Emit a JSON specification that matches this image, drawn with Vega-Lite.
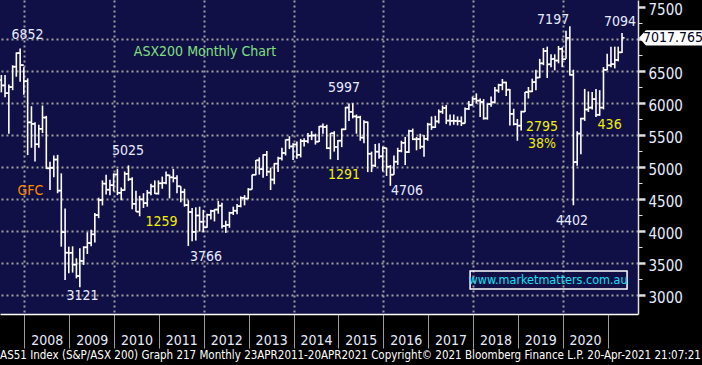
{
  "$schema": "https://vega.github.io/schema/vega-lite/v6.json",
  "width": 638,
  "height": 314,
  "autosize": {"type": "none"},
  "padding": {"left": 0, "top": 0, "right": 64, "bottom": 51},
  "background": "#000000",
  "config": {"view": {"fill": "#100f46", "stroke": null}, "font": "Liberation Sans"},
  "title": {"text": "AS51 Index (S&P/ASX 200) Graph 217  Monthly 23APR2011-20APR2021 Copyright© 2021 Bloomberg Finance L.P.  20-Apr-2021 21:07:21", "orient": "bottom", "anchor": "start", "frame": "bounds", "color": "#ffffff", "fontSize": 11.5, "font": "DejaVu Sans Condensed, Liberation Sans", "fontWeight": "normal", "offset": 1, "dx": 2},
  "resolve": {"axis": {"y": "independent"}},
  "datasets": {
    "ohlc": [
      {"d":"2007-06-28","o":6358,"h":6438,"l":6166,"c":6274},
      {"d":"2007-07-28","o":6274,"h":6437,"l":6090,"c":6154},
      {"d":"2007-08-28","o":6154,"h":6290,"l":5520,"c":6249},
      {"d":"2007-09-28","o":6249,"h":6590,"l":6200,"c":6567},
      {"d":"2007-10-28","o":6567,"h":6790,"l":6410,"c":6779},
      {"d":"2007-11-28","o":6779,"h":6852,"l":6330,"c":6592},
      {"d":"2007-12-28","o":6592,"h":6560,"l":6130,"c":6340},
      {"d":"2008-01-28","o":6340,"h":6385,"l":5186,"c":5697},
      {"d":"2008-02-28","o":5697,"h":5950,"l":5300,"c":5674},
      {"d":"2008-03-28","o":5674,"h":5700,"l":5087,"c":5355},
      {"d":"2008-04-28","o":5355,"h":5660,"l":5300,"c":5597},
      {"d":"2008-05-28","o":5597,"h":5960,"l":5530,"c":5773},
      {"d":"2008-06-28","o":5773,"h":5800,"l":4970,"c":4979},
      {"d":"2008-07-28","o":4979,"h":5080,"l":4640,"c":4987},
      {"d":"2008-08-28","o":4987,"h":5180,"l":4840,"c":5116},
      {"d":"2008-09-28","o":5116,"h":5190,"l":4590,"c":4631},
      {"d":"2008-10-28","o":4631,"h":4900,"l":3755,"c":3982},
      {"d":"2008-11-28","o":3982,"h":4350,"l":3234,"c":3661},
      {"d":"2008-12-28","o":3661,"h":3755,"l":3339,"c":3659},
      {"d":"2009-01-28","o":3659,"h":3760,"l":3350,"c":3475},
      {"d":"2009-02-28","o":3475,"h":3573,"l":3260,"c":3296},
      {"d":"2009-03-28","o":3296,"h":3729,"l":3121,"c":3532},
      {"d":"2009-04-28","o":3532,"h":3760,"l":3470,"c":3745},
      {"d":"2009-05-28","o":3745,"h":3980,"l":3640,"c":3813},
      {"d":"2009-06-28","o":3813,"h":4020,"l":3760,"c":3948},
      {"d":"2009-07-28","o":3948,"h":4280,"l":3820,"c":4249},
      {"d":"2009-08-28","o":4249,"h":4520,"l":4200,"c":4484},
      {"d":"2009-09-28","o":4484,"h":4790,"l":4400,"c":4740},
      {"d":"2009-10-28","o":4740,"h":4880,"l":4570,"c":4646},
      {"d":"2009-11-28","o":4646,"h":4800,"l":4560,"c":4715},
      {"d":"2009-12-28","o":4715,"h":4900,"l":4620,"c":4883},
      {"d":"2010-01-28","o":4883,"h":4970,"l":4560,"c":4596},
      {"d":"2010-02-28","o":4596,"h":4680,"l":4480,"c":4638},
      {"d":"2010-03-28","o":4638,"h":4930,"l":4630,"c":4893},
      {"d":"2010-04-28","o":4893,"h":5025,"l":4780,"c":4808},
      {"d":"2010-05-28","o":4808,"h":4840,"l":4340,"c":4425},
      {"d":"2010-06-28","o":4425,"h":4630,"l":4300,"c":4302},
      {"d":"2010-07-28","o":4302,"h":4550,"l":4230,"c":4494},
      {"d":"2010-08-28","o":4494,"h":4590,"l":4360,"c":4435},
      {"d":"2010-09-28","o":4435,"h":4640,"l":4380,"c":4599},
      {"d":"2010-10-28","o":4599,"h":4740,"l":4560,"c":4697},
      {"d":"2010-11-28","o":4697,"h":4790,"l":4580,"c":4585},
      {"d":"2010-12-28","o":4585,"h":4790,"l":4570,"c":4745},
      {"d":"2011-01-28","o":4745,"h":4850,"l":4660,"c":4753},
      {"d":"2011-02-28","o":4753,"h":4930,"l":4730,"c":4870},
      {"d":"2011-03-28","o":4870,"h":4880,"l":4510,"c":4838},
      {"d":"2011-04-28","o":4838,"h":4970,"l":4760,"c":4824},
      {"d":"2011-05-28","o":4824,"h":4870,"l":4590,"c":4698},
      {"d":"2011-06-28","o":4698,"h":4700,"l":4450,"c":4608},
      {"d":"2011-07-28","o":4608,"h":4660,"l":4380,"c":4405},
      {"d":"2011-08-28","o":4405,"h":4480,"l":3766,"c":4297},
      {"d":"2011-09-28","o":4297,"h":4360,"l":3840,"c":3986},
      {"d":"2011-10-28","o":3986,"h":4370,"l":3850,"c":4242},
      {"d":"2011-11-28","o":4242,"h":4380,"l":3990,"c":4145},
      {"d":"2011-12-28","o":4145,"h":4330,"l":3980,"c":4057},
      {"d":"2012-01-28","o":4057,"h":4270,"l":4050,"c":4253},
      {"d":"2012-02-28","o":4253,"h":4330,"l":4180,"c":4313},
      {"d":"2012-03-28","o":4313,"h":4340,"l":4150,"c":4335},
      {"d":"2012-04-28","o":4335,"h":4470,"l":4270,"c":4396},
      {"d":"2012-05-28","o":4396,"h":4440,"l":4040,"c":4077},
      {"d":"2012-06-28","o":4077,"h":4160,"l":3970,"c":4095},
      {"d":"2012-07-28","o":4095,"h":4300,"l":4050,"c":4284},
      {"d":"2012-08-28","o":4284,"h":4380,"l":4250,"c":4317},
      {"d":"2012-09-28","o":4317,"h":4420,"l":4260,"c":4387},
      {"d":"2012-10-28","o":4387,"h":4540,"l":4370,"c":4519},
      {"d":"2012-11-28","o":4519,"h":4560,"l":4400,"c":4506},
      {"d":"2012-12-28","o":4506,"h":4670,"l":4500,"c":4649},
      {"d":"2013-01-28","o":4649,"h":4880,"l":4650,"c":4879},
      {"d":"2013-02-28","o":4879,"h":5110,"l":4870,"c":5104},
      {"d":"2013-03-28","o":5104,"h":5150,"l":4880,"c":4967},
      {"d":"2013-04-28","o":4967,"h":5200,"l":4830,"c":5191},
      {"d":"2013-05-28","o":5191,"h":5250,"l":4860,"c":4927},
      {"d":"2013-06-28","o":4927,"h":4990,"l":4640,"c":4803},
      {"d":"2013-07-28","o":4803,"h":5060,"l":4730,"c":5052},
      {"d":"2013-08-28","o":5052,"h":5160,"l":4920,"c":5135},
      {"d":"2013-09-28","o":5135,"h":5300,"l":5100,"c":5218},
      {"d":"2013-10-28","o":5218,"h":5430,"l":5180,"c":5426},
      {"d":"2013-11-28","o":5426,"h":5480,"l":5280,"c":5321},
      {"d":"2013-12-28","o":5321,"h":5370,"l":5110,"c":5352},
      {"d":"2014-01-28","o":5352,"h":5400,"l":5130,"c":5190},
      {"d":"2014-02-28","o":5190,"h":5440,"l":5150,"c":5405},
      {"d":"2014-03-28","o":5405,"h":5450,"l":5320,"c":5403},
      {"d":"2014-04-28","o":5403,"h":5530,"l":5370,"c":5489},
      {"d":"2014-05-28","o":5489,"h":5560,"l":5420,"c":5492},
      {"d":"2014-06-28","o":5492,"h":5520,"l":5350,"c":5396},
      {"d":"2014-07-28","o":5396,"h":5640,"l":5390,"c":5633},
      {"d":"2014-08-28","o":5633,"h":5680,"l":5520,"c":5625},
      {"d":"2014-09-28","o":5625,"h":5660,"l":5280,"c":5293},
      {"d":"2014-10-28","o":5293,"h":5530,"l":5120,"c":5527},
      {"d":"2014-11-28","o":5527,"h":5560,"l":5240,"c":5313},
      {"d":"2014-12-28","o":5313,"h":5420,"l":5110,"c":5411},
      {"d":"2015-01-28","o":5411,"h":5600,"l":5310,"c":5588},
      {"d":"2015-02-28","o":5588,"h":5940,"l":5580,"c":5929},
      {"d":"2015-03-28","o":5929,"h":5990,"l":5720,"c":5861},
      {"d":"2015-04-28","o":5861,"h":5997,"l":5760,"c":5790},
      {"d":"2015-05-28","o":5790,"h":5820,"l":5520,"c":5777},
      {"d":"2015-06-28","o":5777,"h":5800,"l":5410,"c":5459},
      {"d":"2015-07-28","o":5459,"h":5730,"l":5370,"c":5699},
      {"d":"2015-08-28","o":5699,"h":5710,"l":4920,"c":5207},
      {"d":"2015-09-28","o":5207,"h":5240,"l":4920,"c":5022},
      {"d":"2015-10-28","o":5022,"h":5360,"l":5000,"c":5239},
      {"d":"2015-11-28","o":5239,"h":5370,"l":5130,"c":5166},
      {"d":"2015-12-28","o":5166,"h":5320,"l":4930,"c":5296},
      {"d":"2016-01-28","o":5296,"h":5300,"l":4860,"c":5005},
      {"d":"2016-02-28","o":5005,"h":5030,"l":4706,"c":4880},
      {"d":"2016-03-28","o":4880,"h":5180,"l":4880,"c":5083},
      {"d":"2016-04-28","o":5083,"h":5300,"l":5030,"c":5253},
      {"d":"2016-05-28","o":5253,"h":5410,"l":5230,"c":5378},
      {"d":"2016-06-28","o":5378,"h":5470,"l":5030,"c":5233},
      {"d":"2016-07-28","o":5233,"h":5580,"l":5220,"c":5562},
      {"d":"2016-08-28","o":5562,"h":5600,"l":5420,"c":5433},
      {"d":"2016-09-28","o":5433,"h":5470,"l":5260,"c":5436},
      {"d":"2016-10-28","o":5436,"h":5520,"l":5280,"c":5318},
      {"d":"2016-11-28","o":5318,"h":5500,"l":5160,"c":5440},
      {"d":"2016-12-28","o":5440,"h":5690,"l":5410,"c":5665},
      {"d":"2017-01-28","o":5665,"h":5790,"l":5580,"c":5621},
      {"d":"2017-02-28","o":5621,"h":5800,"l":5610,"c":5712},
      {"d":"2017-03-28","o":5712,"h":5900,"l":5680,"c":5864},
      {"d":"2017-04-28","o":5864,"h":5960,"l":5830,"c":5924},
      {"d":"2017-05-28","o":5924,"h":5970,"l":5670,"c":5725},
      {"d":"2017-06-28","o":5725,"h":5820,"l":5650,"c":5721},
      {"d":"2017-07-28","o":5721,"h":5820,"l":5660,"c":5720},
      {"d":"2017-08-28","o":5720,"h":5790,"l":5650,"c":5715},
      {"d":"2017-09-28","o":5715,"h":5790,"l":5640,"c":5682},
      {"d":"2017-10-28","o":5682,"h":5930,"l":5680,"c":5909},
      {"d":"2017-11-28","o":5909,"h":6030,"l":5890,"c":5970},
      {"d":"2017-12-28","o":5970,"h":6100,"l":5960,"c":6065},
      {"d":"2018-01-28","o":6065,"h":6150,"l":5990,"c":6037},
      {"d":"2018-02-28","o":6037,"h":6070,"l":5780,"c":6016},
      {"d":"2018-03-28","o":6016,"h":6060,"l":5740,"c":5759},
      {"d":"2018-04-28","o":5759,"h":5990,"l":5740,"c":5983},
      {"d":"2018-05-28","o":5983,"h":6100,"l":5940,"c":6011},
      {"d":"2018-06-28","o":6011,"h":6250,"l":5990,"c":6195},
      {"d":"2018-07-28","o":6195,"h":6300,"l":6160,"c":6280},
      {"d":"2018-08-28","o":6280,"h":6375,"l":6200,"c":6320},
      {"d":"2018-09-28","o":6320,"h":6330,"l":6110,"c":6208},
      {"d":"2018-10-28","o":6208,"h":6220,"l":5650,"c":5830},
      {"d":"2018-11-28","o":5830,"h":5910,"l":5650,"c":5668},
      {"d":"2018-12-28","o":5668,"h":5750,"l":5410,"c":5646},
      {"d":"2019-01-28","o":5646,"h":5880,"l":5570,"c":5865},
      {"d":"2019-02-28","o":5865,"h":6170,"l":5860,"c":6169},
      {"d":"2019-03-28","o":6169,"h":6250,"l":6070,"c":6181},
      {"d":"2019-04-28","o":6181,"h":6380,"l":6170,"c":6326},
      {"d":"2019-05-28","o":6326,"h":6520,"l":6200,"c":6397},
      {"d":"2019-06-28","o":6397,"h":6690,"l":6390,"c":6619},
      {"d":"2019-07-28","o":6619,"h":6860,"l":6590,"c":6813},
      {"d":"2019-08-28","o":6813,"h":6880,"l":6390,"c":6604},
      {"d":"2019-09-28","o":6604,"h":6760,"l":6560,"c":6688},
      {"d":"2019-10-28","o":6688,"h":6760,"l":6510,"c":6663},
      {"d":"2019-11-28","o":6663,"h":6890,"l":6620,"c":6846},
      {"d":"2019-12-28","o":6846,"h":6870,"l":6560,"c":6684},
      {"d":"2020-01-28","o":6684,"h":7130,"l":6690,"c":7017},
      {"d":"2020-02-28","o":7017,"h":7197,"l":6430,"c":6441},
      {"d":"2020-03-28","o":6441,"h":6520,"l":4402,"c":5077},
      {"d":"2020-04-28","o":5077,"h":5560,"l":5020,"c":5522},
      {"d":"2020-05-28","o":5522,"h":5770,"l":5200,"c":5756},
      {"d":"2020-06-28","o":5756,"h":6220,"l":5720,"c":5898},
      {"d":"2020-07-28","o":5898,"h":6180,"l":5860,"c":5928},
      {"d":"2020-08-28","o":5928,"h":6170,"l":5900,"c":6061},
      {"d":"2020-09-28","o":6061,"h":6220,"l":5780,"c":5816},
      {"d":"2020-10-28","o":5816,"h":6200,"l":5800,"c":5928},
      {"d":"2020-11-28","o":5928,"h":6560,"l":5900,"c":6518},
      {"d":"2020-12-28","o":6518,"h":6770,"l":6510,"c":6588},
      {"d":"2021-01-28","o":6588,"h":6880,"l":6560,"c":6607},
      {"d":"2021-02-28","o":6607,"h":6880,"l":6540,"c":6673},
      {"d":"2021-03-28","o":6673,"h":6880,"l":6650,"c":6791},
      {"d":"2021-04-28","o":6791,"h":7094,"l":6780,"c":7018}
    ],
    "ann": [
      {"d":"2008-01-27","v":7062,"t":"6852","k":"level"},
      {"d":"2012-01-11","v":6797,"t":"ASX200 Monthly Chart","k":"title"},
      {"d":"2008-02-20","v":4625,"t":"GFC","k":"gfc"},
      {"d":"2010-04-24","v":5250,"t":"5025","k":"level"},
      {"d":"2011-01-22","v":4141,"t":"1259","k":"move"},
      {"d":"2009-04-19","v":2984,"t":"3121","k":"level"},
      {"d":"2012-01-19","v":3594,"t":"3766","k":"level"},
      {"d":"2015-02-16","v":6234,"t":"5997","k":"level"},
      {"d":"2015-02-16","v":4875,"t":"1291","k":"move"},
      {"d":"2016-07-13","v":4625,"t":"4706","k":"level"},
      {"d":"2019-10-15","v":7297,"t":"7197","k":"level"},
      {"d":"2021-04-12","v":7266,"t":"7094","k":"level"},
      {"d":"2019-07-17","v":5625,"t":"2795","k":"move"},
      {"d":"2019-07-17","v":5359,"t":"38%","k":"move"},
      {"d":"2020-03-17","v":4156,"t":"4402","k":"level"},
      {"d":"2021-01-17","v":5656,"t":"436","k":"move"}
    ],
    "url": [{"d":"2019-09-04","v":3234,"t":"www.marketmatters.com.au","k":"url"}],
    "box": [{"a":"2017-12-08","b":"2021-06-08","lo":3094,"hi":3375}],
    "last": [{"v":7017.765,"t":"7017.765"}]
  },
  "layer": [
    {
      "data": {"name": "ohlc"},
      "mark": {"type": "rule", "color": "#ffffff", "strokeWidth": 1.6},
      "encoding": {
        "x": {"field": "d", "type": "temporal",
          "scale": {"type": "utc", "domain": [{"year":2007,"month":6,"date":17,"utc":true},{"year":2021,"month":9,"date":5,"utc":true}]},
          "axis": {
            "orient": "bottom", "title": null,
            "values": [{"year":2008,"month":1,"date":1,"utc":true},{"year":2009,"month":1,"date":1,"utc":true},{"year":2010,"month":1,"date":1,"utc":true},{"year":2011,"month":1,"date":1,"utc":true},{"year":2012,"month":1,"date":1,"utc":true},{"year":2013,"month":1,"date":1,"utc":true},{"year":2014,"month":1,"date":1,"utc":true},{"year":2015,"month":1,"date":1,"utc":true},{"year":2016,"month":1,"date":1,"utc":true},{"year":2017,"month":1,"date":1,"utc":true},{"year":2018,"month":1,"date":1,"utc":true},{"year":2019,"month":1,"date":1,"utc":true},{"year":2020,"month":1,"date":1,"utc":true},{"year":2021,"month":1,"date":1,"utc":true}],
            "labelExpr": "utcyear(datum.value) >= 2021 ? '' : '' + utcyear(datum.value)",
            "labelOffset": 22.4, "labelFlush": false, "labelOverlap": false, "labelBound": false,
            "labelColor": "#e6ecff", "labelFontSize": 14, "labelFont": "DejaVu Sans Condensed, Liberation Sans",
            "labelBaseline": "top", "labelPadding": -15,
            "tickSize": 34, "tickColor": "#9c9c9c", "tickWidth": 1,
            "domainColor": "#ffffff", "domainWidth": 1.5,
            "grid": true, "gridColor": "#a0a0a0", "gridDash": [2, 3], "gridWidth": 2,
            "gridOpacity": {"condition": {"test": "utcyear(datum.value) % 2 == 0", "value": 1}, "value": 0}
          }
        },
        "y": {"field": "l", "type": "quantitative",
          "scale": {"domain": [2703, 7609], "nice": false, "zero": false},
          "axis": {
            "orient": "right", "title": null,
            "values": [3000,3500,4000,4500,5000,5500,6000,6500,7000,7500],
            "format": "d",
            "labelExpr": "datum.value != 7000 ? datum.label : ''",
            "labelColor": "#e6ecff", "labelFontSize": 15, "labelFont": "DejaVu Sans Condensed, Liberation Sans", "labelPadding": 3,
            "labelOffset": 2.5,
            "labelFlush": false, "labelOverlap": false, "labelBound": false,
            "tickSize": 7, "tickWidth": 2.5,
            "tickColor": "#e0e0e0",
            "domainColor": "#e0e0e0", "domainWidth": 1.5,
            "grid": true, "gridColor": "#a0a0a0", "gridDash": [2, 3], "gridWidth": 2,
            "gridOpacity": {"condition": {"test": "datum.value < 7500", "value": 1}, "value": 0}
          }
        },
        "y2": {"field": "h"}
      }
    },
    {
      "data": {"name": "ohlc"},
      "mark": {"type": "rule", "color": "#ffffff", "strokeWidth": 1.6, "xOffset": -2.5, "x2Offset": 0},
      "encoding": {
        "x": {"field": "d", "type": "temporal"},
        "x2": {"field": "d"},
        "y": {"field": "o", "type": "quantitative",
          "axis": {"orient": "right", "title": null, "values": [3250,3750,4250,4750,5250,5750,6250,6750,7250],
            "labels": false, "grid": false, "domain": false, "tickSize": 4, "tickWidth": 1, "tickColor": "#e0e0e0"}}
      }
    },
    {
      "data": {"name": "ohlc"},
      "mark": {"type": "rule", "color": "#ffffff", "strokeWidth": 1.6, "xOffset": 0, "x2Offset": 2.5},
      "encoding": {
        "x": {"field": "d", "type": "temporal"},
        "x2": {"field": "d"},
        "y": {"field": "c", "type": "quantitative", "axis": null}
      }
    },
    {
      "data": {"name": "box"},
      "mark": {"type": "rect", "fill": null, "fillOpacity": 0, "stroke": "#ffffff", "strokeWidth": 1.5},
      "encoding": {
        "x": {"field": "a", "type": "temporal"},
        "x2": {"field": "b"},
        "y": {"field": "lo", "type": "quantitative", "axis": null},
        "y2": {"field": "hi"}
      }
    },
    {
      "data": {"name": "ann"},
      "mark": {"type": "text", "align": "center", "baseline": "middle", "fontSize": 14, "font": "DejaVu Sans Condensed, Liberation Sans"},
      "encoding": {
        "x": {"field": "d", "type": "temporal"},
        "y": {"field": "v", "type": "quantitative", "axis": null},
        "text": {"field": "t"},
        "color": {"field": "k", "type": "nominal", "legend": null,
          "scale": {"domain": ["level", "move", "title", "gfc", "url"], "range": ["#e6ecff", "#f0f000", "#80e080", "#ff8c00", "#19e0f5"]}}
      }
    },
    {
      "data": {"name": "url"},
      "mark": {"type": "text", "align": "center", "baseline": "middle", "fontSize": 12.5, "font": "DejaVu Sans Condensed, Liberation Sans"},
      "encoding": {
        "x": {"field": "d", "type": "temporal"},
        "y": {"field": "v", "type": "quantitative", "axis": null},
        "text": {"field": "t"},
        "color": {"field": "k", "type": "nominal", "legend": null,
          "scale": {"domain": ["level", "move", "title", "gfc", "url"], "range": ["#e6ecff", "#f0f000", "#80e080", "#ff8c00", "#19e0f5"]}}
      }
    },
    {
      "data": {"name": "last"},
      "mark": {"type": "point", "filled": true, "fill": "#ffffff", "opacity": 1, "strokeWidth": 0, "size": 3969, "xOffset": 32.5,
        "shape": "M -1 0 L -0.78 -0.24 L 1 -0.24 L 1 0.24 L -0.78 0.24 Z"},
      "encoding": {
        "x": {"value": "width"},
        "y": {"field": "v", "type": "quantitative", "axis": null}
      }
    },
    {
      "data": {"name": "last"},
      "mark": {"type": "text", "align": "center", "baseline": "middle", "fontSize": 14, "font": "DejaVu Sans Condensed, Liberation Sans", "color": "#000022", "xOffset": 35},
      "encoding": {
        "x": {"value": "width"},
        "y": {"field": "v", "type": "quantitative", "axis": null},
        "text": {"field": "t"}
      }
    }
  ]
}
